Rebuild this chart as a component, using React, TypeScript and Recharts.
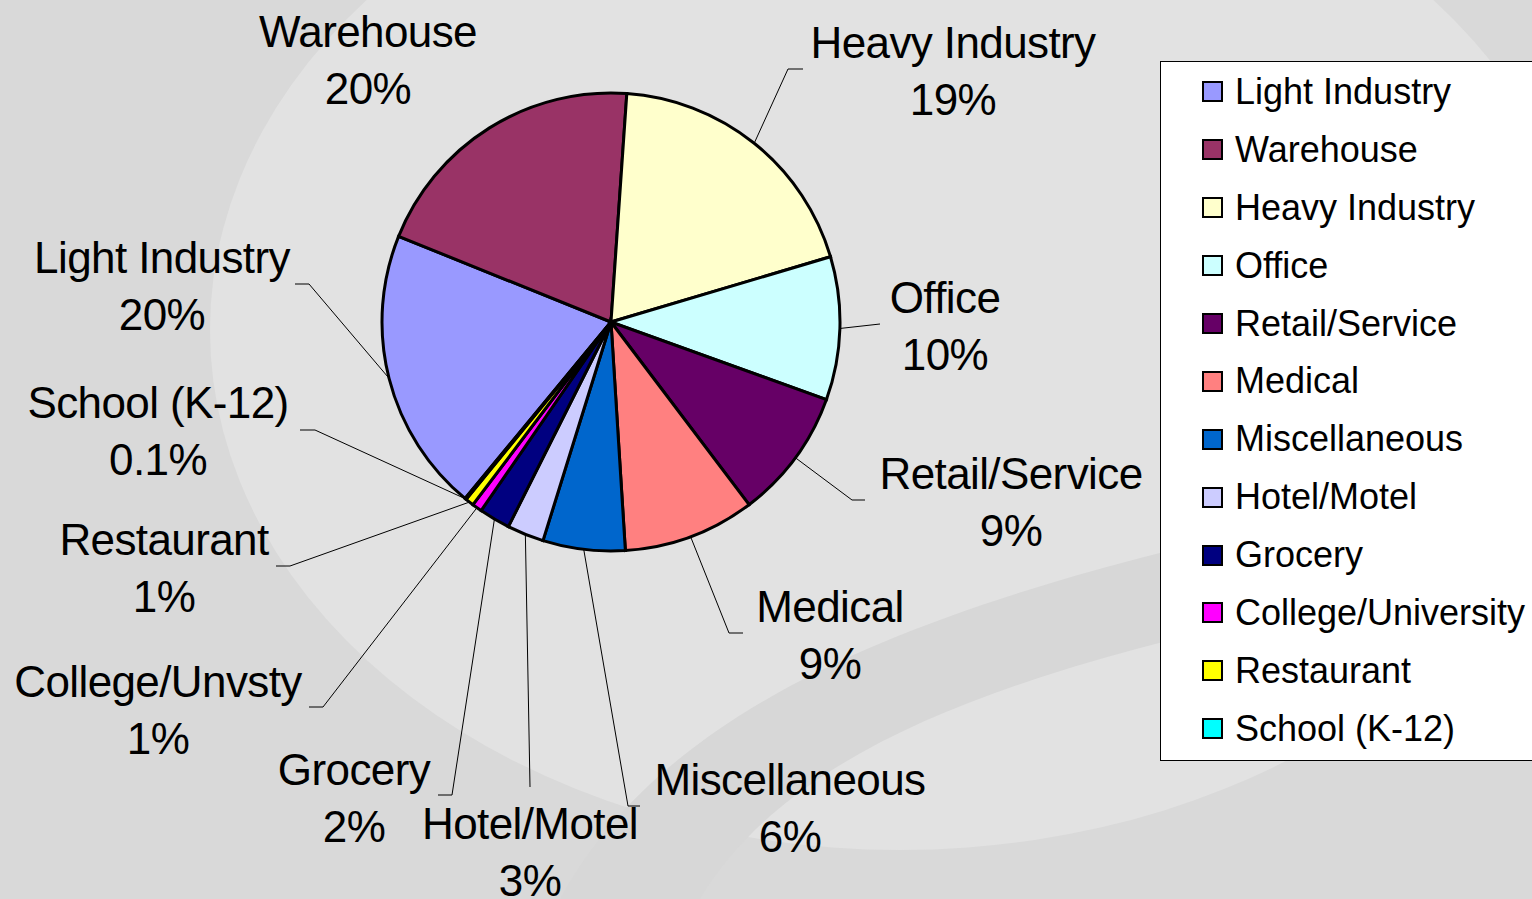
import React from "react";
import { PieChart, Pie, Cell, Legend } from "recharts";

const categories = [
  "Light Industry", "Warehouse", "Heavy Industry", "Office", "Retail/Service", "Medical",
  "Miscellaneous", "Hotel/Motel", "Grocery", "College/University", "Restaurant", "School (K-12)",
];
const labelNames = [
  "Light Industry", "Warehouse", "Heavy Industry", "Office", "Retail/Service", "Medical",
  "Miscellaneous", "Hotel/Motel", "Grocery", "College/Unvsty", "Restaurant", "School (K-12)",
];
const shares = [20.1, 20.0, 19.3, 10.1, 9.2, 9.3, 5.8, 2.6, 2.2, 0.7, 0.6, 0.1];
const percentLabels = ["20%", "20%", "19%", "10%", "9%", "9%", "6%", "3%", "2%", "1%", "1%", "0.1%"];
const colors = [
  "#9999FF", "#993366", "#FFFFCC", "#CCFFFF", "#660066", "#FF8080",
  "#0066CC", "#CCCCFF", "#000080", "#FF00FF", "#FFFF00", "#00FFFF",
];

// label layout relative to pie centre: elbow (ex, ey), horizontal end hx, text centre tx, first baseline ty
const labelLayout = [
  { ex: -302, ey: -38, hx: -316, tx: -449, ty: -49, line: true },
  { ex: 0, ey: 0, hx: 0, tx: -243, ty: -275, line: false },
  { ex: 177, ey: -253, hx: 192, tx: 342, ty: -264, line: true },
  { ex: 269, ey: 2, hx: 269, tx: 334, ty: -9, line: true },
  { ex: 241, ey: 178, hx: 254, tx: 400, ty: 167, line: true },
  { ex: 118, ey: 311, hx: 132, tx: 219, ty: 300, line: true },
  { ex: 17, ey: 484, hx: 29, tx: 179, ty: 473, line: true },
  { ex: -81, ey: 465, hx: -81, tx: -81, ty: 517, line: true },
  { ex: -159, ey: 473, hx: -173, tx: -257, ty: 463, line: true },
  { ex: -288, ey: 385, hx: -302, tx: -453, ty: 375, line: true },
  { ex: -321, ey: 244, hx: -335, tx: -447, ty: 233, line: true },
  { ex: -296, ey: 108, hx: -311, tx: -453, ty: 96, line: true },
];

const data = categories.map((name, i) => ({ name, value: shares[i] }));

const FONT = "'Liberation Sans', Arial, sans-serif";

const renderLabel = (props: any) => {
  const { cx, cy, midAngle, outerRadius, index } = props;
  const RAD = Math.PI / 180;
  const sx = cx + outerRadius * Math.cos(-midAngle * RAD);
  const sy = cy + outerRadius * Math.sin(-midAngle * RAD);
  const l = labelLayout[index];
  return (
    <g key={`lbl-${index}`}>
      {l.line && (
        <polyline
          points={`${sx},${sy} ${cx + l.ex},${cy + l.ey} ${cx + l.hx},${cy + l.ey}`}
          fill="none"
          stroke="#000"
          strokeWidth={1}
        />
      )}
      <text
        x={cx + l.tx}
        y={cy + l.ty}
        textAnchor="middle"
        fontFamily={FONT}
        fontSize={44}
        letterSpacing={-0.6}
        fill="#000"
      >
        <tspan x={cx + l.tx} y={cy + l.ty}>{labelNames[index]}</tspan>
        <tspan x={cx + l.tx} y={cy + l.ty + 57}>{percentLabels[index]}</tspan>
      </text>
    </g>
  );
};

const LegendBox = () => (
  <div
    style={{
      position: "absolute",
      left: 1160,
      top: 61,
      width: 400,
      height: 700,
      background: "#fff",
      border: "1px solid #000",
      boxSizing: "border-box",
      fontFamily: FONT,
      fontSize: 36,
      color: "#000",
      paddingTop: 1,
    }}
  >
    {categories.map((c, i) => (
      <div key={c} style={{ display: "flex", alignItems: "center", height: 57.9, whiteSpace: "nowrap" }}>
        <div
          style={{
            width: 21,
            height: 21,
            marginLeft: 41,
            marginRight: 12,
            background: colors[i],
            border: "2px solid #000",
            boxSizing: "border-box",
          }}
        />
        <span>{c}</span>
      </div>
    ))}
  </div>
);

export default function App() {
  return (
    <div style={{ position: "absolute", left: 0, top: 0, width: 1532, height: 899, overflow: "hidden" }}>
      <svg width={1532} height={899} style={{ position: "absolute", left: 0, top: 0 }}>
        <rect x={0} y={0} width={1532} height={899} fill="#D9D9D9" />
        <ellipse cx={900} cy={330} rx={690} ry={520} fill="#E2E2E2" />
        <path d="M 560 899 C 700 640, 1100 560, 1532 470 L 1532 560 C 1150 640, 820 700, 700 899 Z" fill="#D7D7D7" />
      </svg>
      <div style={{ position: "absolute", left: 0, top: 0 }}>
        <PieChart width={1532} height={899} margin={{ top: 0, right: 0, bottom: 0, left: 0 }}>
          <Pie
            data={data}
            dataKey="value"
            nameKey="name"
            cx={611}
            cy={322}
            outerRadius={229}
            startAngle={230.4}
            endAngle={-129.6}
            stroke="#000"
            strokeWidth={3}
            label={renderLabel}
            labelLine={false}
            isAnimationActive={false}
          >
            {data.map((d, i) => (
              <Cell key={d.name} fill={colors[i]} stroke="#000" strokeWidth={3} />
            ))}
          </Pie>
          <Legend content={() => null} />
        </PieChart>
      </div>
      <LegendBox />
    </div>
  );
}
